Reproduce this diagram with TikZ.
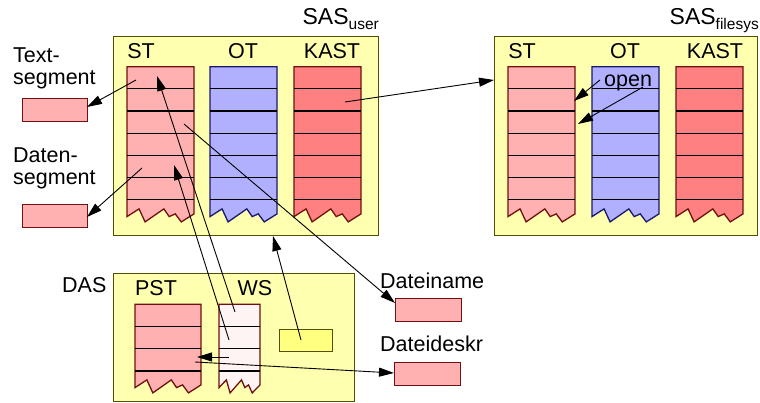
\documentclass[tikz,border=0pt]{standalone}
\usepackage{fontspec}
\setmainfont{Liberation Sans}
\usetikzlibrary{arrows.meta}
\definecolor{stpink}{HTML}{FFB0B0}
\definecolor{kastred}{HTML}{FF8080}
\definecolor{otblue}{HTML}{B0B0FF}
\definecolor{bgyel}{HTML}{FFFFB0}
\definecolor{smyel}{HTML}{FFFF80}
\definecolor{wspink}{HTML}{FFF4F4}
\definecolor{darkred}{HTML}{701010}
\definecolor{darkblue}{HTML}{181870}
\definecolor{darkolive}{HTML}{505000}
\newcommand\tabcol[7]{%
  % #1 name, #2 x, #3 ytop, #4 width, #5 rows, #6 fill, #7 border
  \pgfmathsetmacro\tcyb{#3+#5*22.2}%
  \node[inner sep=0, anchor=north west, minimum width=#4pt, minimum height=#5*22.2pt+22pt] (#1) at (#2,#3) {};
  \filldraw[fill=#6, draw=#7, line width=1.3pt, line join=miter]
    (#2,#3) -- (#2+#4,#3) -- (#2+#4,\tcyb+14) -- (#2+0.81*#4,\tcyb+22) -- (#2+0.72*#4,\tcyb+14)
    -- (#2+0.63*#4,\tcyb+16.7) -- (#2+0.55*#4,\tcyb+9) -- (#2+0.27*#4,\tcyb+22)
    -- (#2+0.18*#4,\tcyb+9) -- (#2,\tcyb+16.7) -- cycle;
  \foreach \i in {1,...,#5} \draw[line width=1.2pt] (#2,#3+\i*22.2) -- (#2+#4,#3+\i*22.2);
}
\begin{document}
\begin{tikzpicture}[x=1pt,y=-1pt,
  area/.style={draw=darkolive, fill=bgyel, line width=1.4pt, inner sep=0, anchor=north west},
  smallbox/.style={draw=darkred, fill=stpink, line width=1.3pt, inner sep=0, anchor=north west, minimum width=65pt, minimum height=23pt},
  lbl/.style={font=\fontsize{21.5}{22.5}\selectfont, inner sep=0},
  arr/.style={-{Triangle[length=15pt,width=9pt]}, line width=0.9pt}]
\useasboundingbox (0,0) rectangle (760,403);
\fill[white] (0,0) rectangle (760,403);

% areas
\node[area, minimum width=265pt, minimum height=199pt] (sasu) at (113,36) {};
\node[area, minimum width=263pt, minimum height=199pt] (sasf) at (494,36) {};
\node[area, minimum width=241pt, minimum height=128pt] (das) at (113,273) {};

% area labels
\node[lbl, anchor=base east] (sasul) at (379,25) {\fontsize{23}{23}\selectfont SAS\raisebox{-5pt}{\fontsize{15.5}{15.5}\selectfont user}};
\node[lbl, anchor=base east] (sasfl) at (759,25) {\fontsize{23}{23}\selectfont SAS\raisebox{-5pt}{\fontsize{15.5}{15.5}\selectfont filesys}};
\node[lbl, anchor=base west] (dasl) at (62,293) {DAS};

% columns SAS_user
\tabcol{stu}{127}{66.7}{67}{6}{stpink}{darkred}
\tabcol{otu}{210}{66.7}{67}{6}{otblue}{darkblue}
\tabcol{kastu}{294}{66.7}{67}{6}{kastred}{darkred}
\node[lbl, anchor=base] (stul) at (141,58.5) {ST};
\node[lbl, anchor=base] (otul) at (243,58.5) {OT};
\node[lbl, anchor=base] (kastul) at (332,58.5) {KAST};

% columns SAS_filesys
\tabcol{stf}{508}{66.7}{67}{6}{stpink}{darkred}
\tabcol{otf}{592}{66.7}{67}{6}{otblue}{darkblue}
\tabcol{kastf}{676}{66.7}{67}{6}{kastred}{darkred}
\node[lbl, anchor=base] (stfl) at (522,58.5) {ST};
\node[lbl, anchor=base] (otfl) at (625,58.5) {OT};
\node[lbl, anchor=base] (kastfl) at (715,58.5) {KAST};
\node[lbl, anchor=base west] (open) at (604,86.5) {open};

% DAS columns
\tabcol{pst}{135}{304.3}{66}{3}{stpink}{darkred}
\tabcol{ws}{219}{304.3}{41}{3}{wspink}{darkred}
\node[lbl, anchor=base] (pstl) at (156,295) {PST};
\node[lbl, anchor=base] (wsl) at (255,295) {WS};
\node[draw=darkolive, fill=smyel, line width=1.3pt, inner sep=0, anchor=north west, minimum width=53pt, minimum height=22pt] (yb) at (279,329) {};

% left boxes
\node[lbl, anchor=base west, align=left] (textl) at (13,85) {Text-\\segment};
\node[smallbox] (textb) at (22,98) {};
\node[lbl, anchor=base west, align=left] (datl) at (13,185) {Daten-\\segment};
\node[smallbox] (datb) at (22,204) {};

% right boxes
\node[lbl, anchor=base west] (namel) at (380,288) {Dateiname};
\node[smallbox, minimum width=66pt] (nameb) at (395,298) {};
\node[lbl, anchor=base west] (deskl) at (380,351.5) {Dateideskr};
\node[smallbox, minimum width=66pt] (deskb) at (394,362) {};

% arrow end points
\coordinate (a1s) at (136,80);   \coordinate (a1e) at (87,107);
\coordinate (a2s) at (142,168);  \coordinate (a2e) at (87,217);
\coordinate (a3s) at (345,102);  \coordinate (a3e) at (494,80);
\coordinate (a4s) at (600,80);   \coordinate (a4e) at (574,101);
\coordinate (a5s) at (643,87);   \coordinate (a5e) at (578,124);
\coordinate (a6s) at (235,312);  \coordinate (a6e) at (157,76);
\coordinate (a7s) at (229,340);  \coordinate (a7e) at (174,165);
\coordinate (a8s) at (301,340);  \coordinate (a8e) at (273,236);
\coordinate (a9s) at (184,124);  \coordinate (a9e) at (395,303);
\coordinate (a10s) at (229,357); \coordinate (a10e) at (197,357);
\coordinate (a11s) at (195,362); \coordinate (a11e) at (394,373);

\foreach \n in {1,...,11} \draw[arr] (a\n s) -- (a\n e);
\end{tikzpicture}
\end{document}
